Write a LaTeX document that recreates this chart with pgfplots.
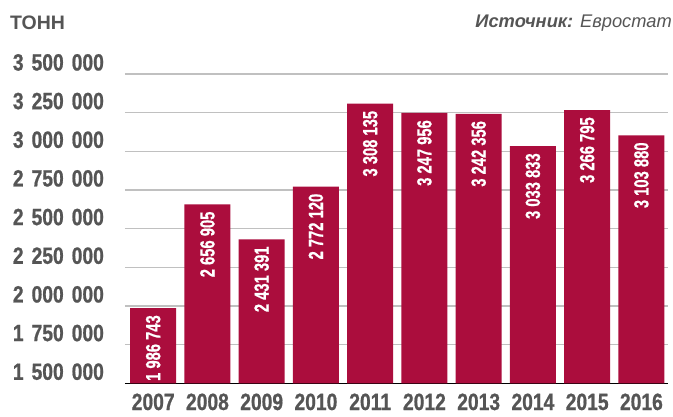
\documentclass[border=0pt]{standalone}
\usepackage{pgfplots}
\pgfplotsset{compat=1.18}
\usepackage{pgfplotstable}
\usepackage{fontspec}
\setmainfont{Liberation Sans}
\newfontfamily\narrow{Liberation Sans}[FakeStretch=0.82, BoldFeatures={FakeBold=0.8}]
\newfontfamily\valfont{Liberation Sans}[FakeStretch=0.72, BoldFeatures={FakeBold=0.6}]
\definecolor{barc}{RGB}{171,13,61}
\definecolor{txt}{RGB}{85,85,85}
\definecolor{gridc}{RGB}{192,192,192}
\pgfplotstableread[col sep=comma]{
x,y,label
0,1986743,1 986 743
1,2656905,2 656 905
2,2431391,2 431 391
3,2772120,2 772 120
4,3308135,3 308 135
5,3247956,3 247 956
6,3242356,3 242 356
7,3033833,3 033 833
8,3266795,3 266 795
9,3103880,3 103 880
}\datatable
\newcommand{\tsp}{\hspace{0.34em}}
\begin{document}
\begin{tikzpicture}[x=1pt,y=1pt]
\path[use as bounding box] (0,0) rectangle (673,416);
\node[anchor=base west, inner sep=0pt, text=txt, font=\bfseries\fontsize{19.5}{19.5}\selectfont] at (10,386) {ТОНН};
\node[anchor=base east, inner sep=0pt, text=txt, font=\fontsize{18.3}{18.3}\selectfont] at (672,388.7) {{\bfseries\itshape Источник:} {\itshape Евростат}};
\begin{axis}[
  at={(125pt,32.7pt)}, anchor=south west,
  scale only axis, width=543pt, height=309.3pt,
  xmin=-0.52, xmax=9.49,
  ymin=1500000, ymax=3500000,
  axis x line*=bottom, axis y line*=left,
  x axis line style={-, black, line width=1.3pt},
  y axis line style={draw=none},
  tick style={draw=none},
  major tick length=0pt,
  scaled y ticks=false,
  ymajorgrids, grid style={gridc, line width=1.3pt},
  ytick={1500000,1750000,2000000,2250000,2500000,2750000,3000000,3250000,3500000},
  yticklabels={{1\tsp500\tsp000},{1\tsp750\tsp000},{2\tsp000\tsp000},{2\tsp250\tsp000},{2\tsp500\tsp000},{2\tsp750\tsp000},{3\tsp000\tsp000},{3\tsp250\tsp000},{3\tsp500\tsp000}},
  yticklabel style={font=\narrow\bfseries\fontsize{23.5}{23.5}\selectfont, text=txt, anchor=base west, inner sep=0pt, xshift=-112.3pt, yshift=3.5pt},
  xtick=data,
  xticklabels={2007,2008,2009,2010,2011,2012,2013,2014,2015,2016},
  xticklabel style={font=\narrow\bfseries\fontsize{23.5}{23.5}\selectfont, text=txt, anchor=base, inner sep=0pt, yshift=-26.7pt},
  clip=false,
]
\addplot[ybar, fill=barc, draw=none, bar width=46pt,
  point meta=explicit symbolic,
  nodes near coords,
  every node near coord/.style={yshift=-7pt, rotate=90, anchor=east, inner sep=0pt, text=white, font=\valfont\bfseries\fontsize{20.5}{20.5}\selectfont},
] table[x=x, y=y, meta=label] {\datatable};
\end{axis}
\end{tikzpicture}
\end{document}
